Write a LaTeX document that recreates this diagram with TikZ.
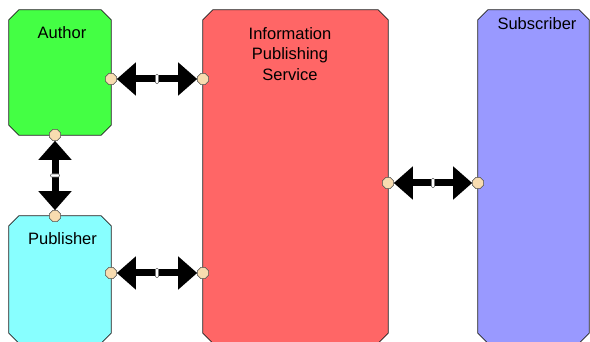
\documentclass[tikz,border=0pt]{standalone}
\usepackage{fontspec}
\setmainfont{Liberation Sans}
\usetikzlibrary{shapes.geometric, arrows.meta, positioning}

\definecolor{authorgreen}{HTML}{44FF44}
\definecolor{pubcyan}{HTML}{88FFFF}
\definecolor{ipsred}{HTML}{FF6666}
\definecolor{subblue}{HTML}{9999FF}
\definecolor{porttan}{HTML}{F8DCB0}

% box outline with cut corners, drawn round a named node
\newcommand{\chamfer}[2]{%
  \fill[black!60, xshift=1.3pt, yshift=-1.3pt]
    ([xshift=10pt]#1.north west) -- ([xshift=-10pt]#1.north east) -- ([yshift=-10pt]#1.north east)
    -- ([yshift=10pt]#1.south east) -- ([xshift=-10pt]#1.south east) -- ([xshift=10pt]#1.south west)
    -- ([yshift=10pt]#1.south west) -- ([yshift=-10pt]#1.north west) -- cycle;
  \filldraw[fill=#2, draw=black!85, line width=0.8pt]
    ([xshift=10pt]#1.north west) -- ([xshift=-10pt]#1.north east) -- ([yshift=-10pt]#1.north east)
    -- ([yshift=10pt]#1.south east) -- ([xshift=-10pt]#1.south east) -- ([xshift=10pt]#1.south west)
    -- ([yshift=10pt]#1.south west) -- ([yshift=-10pt]#1.north west) -- cycle;}

\begin{document}
\begin{tikzpicture}[x=1pt, y=-1pt,
    box/.style={rectangle, inner sep=0pt},
    port/.style={regular polygon, regular polygon sides=8, minimum size=12pt,
        inner sep=0pt, draw=black!70, line width=0.5pt, fill=porttan},
    conn/.style={{Triangle[length=19pt,width=32pt]}-{Triangle[length=19pt,width=32pt]},
        line width=7pt},
    tick/.style={draw=black!55, fill=white, rounded corners=1pt, inner sep=0pt,
        minimum width=3pt, minimum height=9pt, line width=0.6pt},
    txt/.style={font=\fontsize{16.5}{20.4}\selectfont, align=center, inner sep=0pt}]
    \useasboundingbox (0,0) rectangle (590,342);

    % boxes
    \node[box, minimum width=102pt, minimum height=125pt] (author) at (60,72.5) {};
    \node[box, minimum width=102pt, minimum height=127pt] (publisher) at (60,279.5) {};
    \node[box, minimum width=185pt, minimum height=333pt] (ips) at (295.5,176.5) {};
    \node[box, minimum width=111pt, minimum height=333pt] (subscriber) at (533.5,176.5) {};
    \chamfer{author}{authorgreen}
    \chamfer{publisher}{pubcyan}
    \chamfer{ips}{ipsred}
    \chamfer{subscriber}{subblue}

    % labels
    \node[txt] (authorlbl) at (62,33) {Author};
    \node[txt] (publisherlbl) at (62.5,239) {Publisher};
    \node[txt, anchor=north] (ipslbl) at (290,27.3) {Information\\Publishing\\Service};
    \node[txt] (subscriberlbl) at (537,23.3) {Subscriber};

    % ports
    \node[port] (pa1) at (111,79) {};
    \node[port] (pa2) at (55,135) {};
    \node[port] (pp1) at (55,216) {};
    \node[port] (pp2) at (111,273) {};
    \node[port] (pi1) at (203,79) {};
    \node[port] (pi2) at (203,273) {};
    \node[port] (pi3) at (388,183) {};
    \node[port] (ps1) at (478,183) {};

    % connectors
    \draw[conn] (pa1) -- node[tick]{} (pi1);
    \draw[conn] (pa2) -- node[tick, sloped]{} (pp1);
    \draw[conn] (pp2) -- node[tick]{} (pi2);
    \draw[conn] (pi3) -- node[tick]{} (ps1);
\end{tikzpicture}
\end{document}
